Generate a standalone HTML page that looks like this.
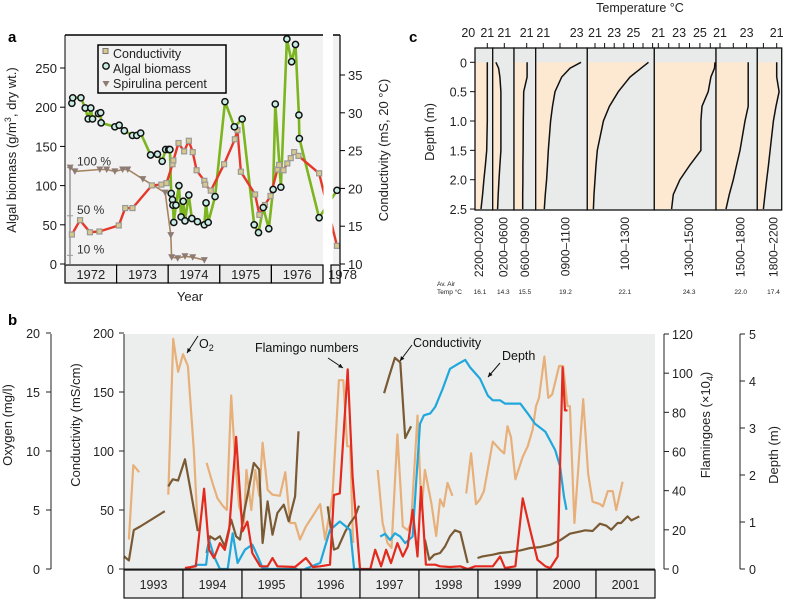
<!DOCTYPE html>
<html><head><meta charset="utf-8">
<style>
html,body{margin:0;padding:0;background:#fff;}
svg{display:block;font-family:"Liberation Sans",sans-serif;}
</style></head>
<body>
<svg id="fig" width="785" height="599" viewBox="0 0 785 599" xmlns="http://www.w3.org/2000/svg"></svg>
<script>
// ===== Panel a data (months since Jan 1972) =====
const bioMonths=[1.6,1.8,3.7,4.7,5.4,6.0,6.4,7.8,8.3,8.4,11.6,12.6,13.8,15.7,16.7,17.6,19.9,21.5,22.6,23.4,24.1,24.4,24.7,25.0,25.1,25.3,25.8,26.5,27.0,27.5,27.9,28.8,29.5,30.8,32.4,32.8,33.3,34.9,37.2,39.4,41.2,44.0,45.0,46.1,47.4,48.4,48.9,50.2,51.6,52.7,53.6,54.4,54.5,59.1,72];
const bioValues=[205,212,212,199,185,199,185,192,193,180,175,177,170,164,164,167,139,140,131,146,146,146,90,82,75,53,75,100,60,80,55,88,58,54,50,78,53,86,207,175,185,50,40,72,45,95,204,98,287,258,280,190,160,59,94];
const condAMonths=[1.6,3.5,5.8,8.0,12.5,14.0,15.7,20.2,22.4,23.6,25.0,25.2,26.4,27.7,28.8,29.7,30.6,32.4,32.6,33.9,37.0,39.5,40.1,40.9,44.2,45.2,46.5,47.8,49.4,49.8,50.8,51.7,52.5,53.3,54.3,59.1,72];
const condAValues=[13.9,15.8,14.2,14.3,15.1,17.4,17.4,20.4,20.5,20.7,23.2,23.7,26.0,24.9,26.3,24.8,22.4,21.0,20.5,19.7,23.2,26.5,27.7,22.2,19.2,16.5,17.8,19.0,22.5,23.1,22.4,23.3,24.0,24.8,24.3,22.0,12.4];
const spiMonths=[1.2,2.3,8.1,9.7,11.6,13.4,14.6,18.1,23.3,24.6,24.8,26.2,27.9,29.7,32.4];
const spiPercent=[100,96,98,98,96,98,98,88,74,30,7,6,8,7,4];
const aYears=["1972","1973","1974","1975","1976"];
const aLeftTicks=[0,50,100,150,200,250];
const aRightTicks=[10,15,20,25,30,35];

// ===== Panel b data (months since Jan 1993); null = gap =====
const o2Months=[1.0,1.9,3.1,null,9.0,10.0,11.0,12.0,13.0,14.2,15.0,null,16.8,18.0,19.0,20.2,20.9,21.8,22.6,23.4,24.4,24.9,25.9,26.7,27.5,28.2,29.2,30.2,31.7,32.8,33.8,34.8,35.8,37.0,38.4,39.9,40.9,42.4,43.7,44.6,45.4,46.0,46.6,null,51.6,52.6,53.6,54.4,55.6,56.7,57.7,58.4,59.7,60.5,61.2,62.5,63.5,64.3,65.0,65.8,66.8,null,69.6,70.6,71.6,72.4,73.2,75.0,76.5,77.3,78.0,78.7,79.6,81.1,82.1,83.1,83.8,84.4,85.5,86.3,87.1,88.5,89.3,90.2,90.7,91.6,93.4,94.4,95.3,96.8,97.4,98.4,99.4,100.1,101.4];
const o2Values=[2.5,8.8,8.2,null,6.3,19.5,16.7,18.2,17.2,10.1,3.3,null,9.0,7.3,6.0,5.3,5.0,14.7,9.3,5.3,3.9,8.4,5.0,8.4,6.2,10.7,6.7,6.3,6.2,8.2,3.9,3.9,2.5,3.6,4.5,5.5,2.5,6.2,16.0,16.0,10.4,10.4,2.2,null,8.4,3.9,2.2,1.8,11.4,3.6,3.3,3.9,13.0,5.0,8.4,5.6,2.8,5.9,5.3,7.3,6.2,null,6.4,9.8,5.5,5.9,6.6,10.8,10.1,9.8,12.1,11.2,7.6,9.5,10.4,11.8,13.8,14.5,18.0,14.5,14.8,17.2,17.2,13.8,13.8,3.9,14.4,8.1,5.7,5.5,5.3,6.6,6.6,5.0,7.4];
const condBMonths=[0,1.0,2.0,3.3,8.3,null,9.0,9.9,11.0,12.4,13.4,15.0,null,16.8,17.5,18.5,19.5,20.5,21.8,22.8,23.6,24.4,25.6,26.4,27.5,28.2,29.2,30.2,31.2,32.5,33.5,34.8,35.5,null,41.4,42.7,43.5,45.0,46.0,47.0,47.8,null,52.9,53.9,55.1,56.2,57.2,58.4,null,61.2,62.1,63.1,64.3,65.3,66.3,67.3,68.4,69.9,null,71.9,72.9,75.0,76.5,78.5,80.6,82.6,84.6,86.7,88.7,90.7,92.8,93.8,95.3,96.8,98.1,99.1,100.4,101.1,102.4,103.2,104.8];
const condBValues=[10.7,7.3,33,36,49,null,70,76,75,93,70,32,null,13.6,27.7,24.9,27.7,19.2,41.8,27.7,24.9,47.5,72.9,89.8,84.2,22,57.3,29.1,47.5,54.5,40.4,61.6,116.7,null,53.1,16.4,17.8,31.9,39,44.6,53.7,null,149,163,179,175,111,121,null,24.9,7.9,12.1,13.6,19.2,27.7,32.8,31.1,5.1,null,9.3,10.7,12.1,13.6,14.4,15.8,17.8,18.6,20.6,24.3,29.9,31.9,32.8,32.2,38.4,36.7,33.3,39,39,44.6,41.2,44.6];
const depthMonths=[12.4,15.0,16.7,17.3,18.3,19.5,21.1,22.1,23.1,24.6,26.1,27.2,28.2,29.7,31.7,35.3,null,36.8,39.9,41.9,43.9,46.0,46.8,48.0,null,52.1,53.1,54.1,55.1,56.2,57.2,58.7,60.2,61.0,62.3,63.3,64.8,66.3,67.9,69.4,70.4,72.4,74.0,75.0,76.5,77.5,80.6,82.1,83.6,85.7,87.7,88.7,89.5,90.0];
const depthValues=[0,0.09,0.09,0.62,0.27,0,0,0.76,0.13,0.41,0.52,0.27,0.02,0,0,0,null,0,0.13,0.83,1.01,0.83,0,0,null,0.69,0.75,0.62,0.76,0.69,0.55,0.69,3.09,3.27,3.31,3.45,3.83,4.26,4.36,4.45,4.29,4.05,3.69,3.59,3.59,3.52,3.52,3.31,3.09,2.92,2.53,2.18,1.54,1.26];
const flamMonths=[12.4,14.6,16.3,17.3,18.3,19.5,20.5,21.4,22.8,24.1,25.1,26.1,27.7,29.2,30.2,31.2,34.8,37.0,38.4,39.9,41.9,42.7,43.9,45.5,46.5,48.0,50.1,51.1,52.3,53.3,54.3,55.6,56.7,57.7,58.7,59.7,60.4,61.4,63.3,64.3,66.3,68.4,69.9,71.4,75.0,76.5,77.5,79.6,81.1,82.6,84.1,85.7,86.7,88.2,89.2,89.7,90.2];
const flamValues=[0.5,1.4,41,9.8,5.6,13.2,9.8,20,67.5,19.2,24.2,8.1,1.4,1.4,5.6,1.4,1,5.6,1,1.4,2.2,37.8,38.6,102,47,0,0,9.8,1.4,9.8,3,13.2,6.4,11.5,30.2,6.4,42,2.2,2.2,1.4,1,1.4,0,1.4,1.4,6.4,0.5,1.4,36.1,20,4.7,1.4,0.5,6.4,103,81,81];
const bYears=["1993","1994","1995","1996","1997","1998","1999","2000","2001"];
const o2Ticks=[0,5,10,15,20];
const condBTicks=[0,50,100,150,200];
const flamTicks=[0,20,40,60,80,100,120];
const depthTicks=[0,1,2,3,4,5];

// ===== Panel c data =====
const cLabels=["2200–0200","0200–0600","0600–0900","0900–1100","100–1300","1300–1500","1500–1800","1800–2200"];
const cAirTemps=["16.1","14.3","15.5","19.2","22.1","24.3","22.0","17.4"];
const cDepthTicks=[0,0.5,1.0,1.5,2.0,2.5];
const cDepths=[0,0.1,0.25,0.5,0.75,1.0,1.5,1.75,2.0,2.25,2.5];
const cTemp1=[21,21,21,21,21,21,20.97,20.9,20.82,20.75,20.67];
const cTemp2=[20.56,20.7,20.77,20.82,20.82,20.82,20.82,20.77,20.72,20.68,20.65];
const cTemp3=[21.02,21.02,21.02,20.84,20.83,20.82,20.81,20.8,20.8,20.79,20.79];
const cTemp4=[23.26,22.6,22.1,21.7,21.55,21.44,21.3,21.25,21.2,21.12,21.06];
const cTemp5=[26.57,25.8,24.65,23.43,22.5,21.87,21.24,21.1,21.0,20.9,20.83];
const cTemp6=[26.5,26.4,26.06,25.8,25.2,25.1,25.1,24.04,23.08,22.44,22.28];
const cTemp7=[23.12,23.12,23.12,23.12,23.12,22.88,22.5,22.25,22.0,21.7,21.45];
const cTemp8=[21,21,21,21.18,20.95,20.75,20.5,20.38,20.25,20.12,20.0];
const cTemps=[cTemp1,cTemp2,cTemp3,cTemp4,cTemp5,cTemp6,cTemp7,cTemp8];
const cTopTickLabels=[["20","21"],["21"],["21"],["21","23"],["21","23","25"],["21","23","25"],["21","23"],["21"]];
const cTopTickValues=[[20,21],[21],[21],[21,23],[21,23,25],[21,23,25],[21,23],[21]];

// ===== helpers =====
const NS="http://www.w3.org/2000/svg";
const svg=document.getElementById('fig');
function mk(tag,attrs,parent,text){const e=document.createElementNS(NS,tag);for(const k in attrs)e.setAttribute(k,attrs[k]);if(text!==undefined)e.textContent=text;(parent||svg).appendChild(e);return e;}
function group(name){const g=mk('g',{});return g;}
function pathFrom(xs,ys,fx,fy){let d='',pen=false;for(let i=0;i<xs.length;i++){if(xs[i]===null||ys[i]===null){pen=false;continue;}d+=(pen?'L':'M')+fx(xs[i]).toFixed(1)+','+fy(ys[i]).toFixed(1);pen=true;}return d;}

// ================= PANEL A =================
const xA=m=>m<65?65+m*4.3:337+(m-72)*4.3;
const yAL=v=>264-v*0.784;
const yAR=v=>264-(v-10)*7.56;
const yPct=p=>yAL(p*1.23);
const ga=group('panel-a');
let e;
e=mk('rect',{x:65,y:35,width:258,height:229,fill:'#f2f2f2'},ga);
mk('rect',{x:333,y:35,width:7,height:229,fill:'#f2f2f2'},ga);
mk('line',{x1:70,y1:yPct(100),x2:70,y2:264,stroke:'#999','stroke-width':1.5},ga);
[[100,'100 %'],[50,'50 %'],[9,'10 %']].forEach(p=>{mk('line',{x1:67,y1:yPct(p[0]),x2:73,y2:yPct(p[0]),stroke:'#999'},ga);
 e=mk('text',{x:77,y:yPct(p[0])-2,'font-size':12,fill:'#333'},ga,p[1]);});
e=mk('path',{d:pathFrom(spiMonths,spiPercent,xA,yPct),fill:'none',stroke:'#a58560','stroke-width':1.6},ga);
e=mk('path',{d:pathFrom(bioMonths,bioValues,xA,yAL),fill:'none',stroke:'#7cb51f','stroke-width':2.6,'stroke-linejoin':'round'},ga);
e=mk('path',{d:pathFrom(condAMonths,condAValues,xA,yAR),fill:'none',stroke:'#e5382a','stroke-width':2.4,'stroke-linejoin':'round'},ga);
mk('rect',{x:323.5,y:33,width:9,height:233,fill:'#fff'},ga);
spiMonths.forEach((m,i)=>{const x=xA(m),y=yPct(spiPercent[i]);e=mk('path',{d:`M${x-3.5},${y-3}L${x+3.5},${y-3}L${x},${y+3.5}Z`,fill:'#8d7b74'},ga);});
condAMonths.forEach((m,i)=>{const x=xA(m),y=yAR(condAValues[i]);e=mk('rect',{x:x-2.5,y:y-2.5,width:5,height:5,fill:'#d8c98a',stroke:'#999','stroke-width':1.2},ga);});
bioMonths.forEach((m,i)=>{e=mk('circle',{cx:xA(m),cy:yAL(bioValues[i]),r:3.1,fill:'#c9ece4',stroke:'#111','stroke-width':1.5},ga);});
mk('line',{x1:65,y1:35,x2:323,y2:35,stroke:'#000','stroke-width':1.5},ga);
mk('line',{x1:333,y1:35,x2:340,y2:35,stroke:'#000','stroke-width':1.5},ga);
mk('line',{x1:65,y1:35,x2:65,y2:264,stroke:'#000','stroke-width':1},ga);
mk('line',{x1:340,y1:35,x2:340,y2:264,stroke:'#000','stroke-width':1.2},ga);
aLeftTicks.forEach(v=>{mk('line',{x1:60,y1:yAL(v),x2:65,y2:yAL(v),stroke:'#000'},ga);e=mk('text',{x:57,y:yAL(v)+5,'font-size':13,'text-anchor':'end',fill:'#222'},ga,String(v));});
aRightTicks.forEach(v=>{mk('line',{x1:340,y1:yAR(v),x2:345,y2:yAR(v),stroke:'#000'},ga);e=mk('text',{x:348,y:yAR(v)+5,'font-size':13,fill:'#222'},ga,String(v));});
aYears.forEach((y,i)=>{const x0=65+i*51.6;mk('rect',{x:x0,y:265,width:51.6,height:18,fill:'#ececec',stroke:'#000','stroke-width':1.2},ga);e=mk('text',{x:x0+25.8,y:279,'font-size':13,'text-anchor':'middle',fill:'#222'},ga,y);});
mk('rect',{x:331,y:265,width:9,height:18,fill:'#ececec',stroke:'#000','stroke-width':1.2},ga);
e=mk('text',{x:328,y:279,'font-size':13,fill:'#222'},ga,'1978');
e=mk('text',{x:190,y:301,'font-size':13,'text-anchor':'middle',fill:'#222'},ga,'Year');
e=mk('text',{x:0,y:0,'font-size':13,'text-anchor':'middle',fill:'#222',transform:'translate(16,150) rotate(-90)'},ga);
e.innerHTML='Algal biomass (g/m<tspan dy="-5" font-size="9">3</tspan><tspan dy="5">, dry wt.)</tspan>';
e=mk('text',{x:0,y:0,'font-size':13,'text-anchor':'middle',fill:'#222',transform:'translate(388,150) rotate(-90)'},ga,'Conductivity (mS, 20 °C)');
e=mk('text',{x:8,y:42,'font-size':15,'font-weight':'bold'},ga,'a');
const lg=group('legend-a');ga.appendChild(lg);
mk('rect',{x:98,y:45,width:128,height:48,fill:'#f2f2f2',stroke:'#000','stroke-width':1.5},lg);
mk('rect',{x:103,y:48.5,width:5,height:5,fill:'#d8c98a',stroke:'#777'},lg);
mk('circle',{cx:106,cy:66,r:3.2,fill:'#c9ece4',stroke:'#111','stroke-width':1.4},lg);
mk('path',{d:'M102.5,81L109.5,81L106,87Z',fill:'#8d7b74'},lg);
[['Conductivity',58],['Algal biomass',73],['Spirulina percent',88]].forEach(t=>{e=mk('text',{x:113,y:t[1],'font-size':12.5,fill:'#222'},lg,t[0]);});

// ================= PANEL C =================
const gc=group('panel-c');
const cBounds=[475,492.7,514,535.7,587.3,654.3,716,757.3,781.7];
const cRefX=[487.3,504.3,526.7,543.3,595,658.3,720,776.7];
const cK=[19,19,19,16.7,9.6,10.4,13.3,13.3];
const cTop=48,cBot=210;
const yDc=d=>62.3+d*58.7;
for(let p=0;p<8;p++){
 const L=cBounds[p],R=cBounds[p+1];
 const xT=t=>cRefX[p]+(t-21)*cK[p];
 e=mk('rect',{x:L,y:cTop,width:R-L,height:cBot-cTop,fill:'#e9ebea'},gc);
 let d=`M${L},${yDc(0)}`;cTemps[p].forEach((t,i)=>{d+=`L${Math.min(R,xT(t)).toFixed(1)},${yDc(cDepths[i]).toFixed(1)}`;});d+=`L${L},${yDc(2.5)}Z`;
 mk('path',{d:d,fill:'#fde8d2'},gc);
 e=mk('path',{d:pathFrom(cTemps[p],cDepths,t=>Math.min(R-1,xT(t)),yDc),fill:'none',stroke:'#111','stroke-width':1.5},gc);
 mk('rect',{x:L,y:cTop,width:R-L,height:cBot-cTop,fill:'none',stroke:'#111','stroke-width':1.3},gc);
 for(let t=Math.ceil((L-cRefX[p])/cK[p]+21);xT(t)<R;t++){if(xT(t)>L+1)mk('line',{x1:xT(t),y1:43,x2:xT(t),y2:48,stroke:'#111'},gc);}
 cTopTickValues[p].forEach((v,i)=>{e=mk('text',{x:xT(v),y:37,'font-size':12.5,'text-anchor':'middle',fill:'#222'},gc,cTopTickLabels[p][i]);});
 const cx=(L+R)/2+(p<3?0:4);
 e=mk('text',{x:0,y:0,'font-size':12,'text-anchor':'end',fill:'#222',transform:`translate(${p==0?483:cx+4},217) rotate(-90)`},gc,cLabels[p]);
 e=mk('text',{x:p==0?480:cx,y:294,'font-size':6.5,'text-anchor':'middle',fill:'#222'},gc,cAirTemps[p]);
}
cDepthTicks.forEach(v=>{mk('line',{x1:470,y1:yDc(v),x2:475,y2:yDc(v),stroke:'#111'},gc);e=mk('text',{x:467,y:yDc(v)+5,'font-size':12.5,'text-anchor':'end',fill:'#222'},gc,v===0?'0':v.toFixed(1));});
e=mk('text',{x:0,y:0,'font-size':13,'text-anchor':'middle',fill:'#222',transform:'translate(434,132) rotate(-90)'},gc,'Depth (m)');
e=mk('text',{x:640,y:12,'font-size':12.5,'text-anchor':'middle',fill:'#222'},gc,'Temperature °C');
e=mk('text',{x:409,y:42,'font-size':15,'font-weight':'bold'},gc,'c');
e=mk('text',{x:437,y:286,'font-size':6.5,fill:'#222'},gc,'Av. Air');
mk('text',{x:437,y:294,'font-size':6.5,fill:'#222'},gc,'Temp °C');

// ================= PANEL B =================
const gb=group('panel-b');
const xB=m=>124+m*(59/12);
const yO=v=>569-v*11.8;
const yC=v=>569-v*1.18;
const yF=v=>569-v*(235/120);
const yDb=v=>569-v*47;
e=mk('rect',{x:124,y:334,width:531,height:235,fill:'#eceeed'},gb);
[[o2Months,o2Values,yO,'#e7b07a','oxygen-line'],[condBMonths,condBValues,yC,'#7a5a34','conductivity-b-line'],[depthMonths,depthValues,yDb,'#20a7dc','depth-line'],[flamMonths,flamValues,yF,'#e32a1e','flamingo-line']].forEach(s=>{
 e=mk('path',{d:pathFrom(s[0],s[1],xB,s[2]),fill:'none',stroke:s[3],'stroke-width':2.2,'stroke-linejoin':'round'},gb);});
mk('line',{x1:51,y1:334,x2:51,y2:569,stroke:'#222'},gb);
o2Ticks.forEach(v=>{mk('line',{x1:46,y1:yO(v),x2:51,y2:yO(v),stroke:'#222'},gb);e=mk('text',{x:40,y:yO(v)+5,'font-size':12.5,'text-anchor':'end',fill:'#222'},gb,String(v));});
mk('line',{x1:124,y1:334,x2:124,y2:569,stroke:'#222'},gb);
condBTicks.forEach(v=>{mk('line',{x1:119,y1:yC(v),x2:124,y2:yC(v),stroke:'#222'},gb);e=mk('text',{x:114,y:yC(v)+5,'font-size':12.5,'text-anchor':'end',fill:'#222'},gb,String(v));});
mk('line',{x1:664,y1:334,x2:664,y2:569,stroke:'#222'},gb);
flamTicks.forEach(v=>{mk('line',{x1:664,y1:yF(v),x2:669,y2:yF(v),stroke:'#222'},gb);e=mk('text',{x:672,y:yF(v)+5,'font-size':12.5,fill:'#222'},gb,String(v));});
mk('line',{x1:740,y1:334,x2:740,y2:569,stroke:'#222'},gb);
depthTicks.forEach(v=>{mk('line',{x1:740,y1:yDb(v),x2:745,y2:yDb(v),stroke:'#222'},gb);e=mk('text',{x:749,y:yDb(v)+5,'font-size':12.5,fill:'#222'},gb,String(v));});
mk('line',{x1:124,y1:569,x2:655,y2:569,stroke:'#222'},gb);
bYears.forEach((y,i)=>{const x0=124+i*59;mk('rect',{x:x0,y:570,width:59,height:28,fill:'#ececec',stroke:'#111','stroke-width':1.2},gb);e=mk('text',{x:x0+29.5,y:589,'font-size':12.5,'text-anchor':'middle',fill:'#222'},gb,y);});
[['Oxygen (mg/l)',12,425],['Conductivity (mS/cm)',80,425],['Depth (m)',778,455]].forEach(t=>{e=mk('text',{x:0,y:0,'font-size':13,'text-anchor':'middle',fill:'#222',transform:`translate(${t[1]},${t[2]}) rotate(-90)`},gb,t[0]);});
e=mk('text',{x:0,y:0,'font-size':13,'text-anchor':'middle',fill:'#222',transform:'translate(710,425) rotate(-90)'},gb);
e.innerHTML='Flamingoes (×10<tspan dy="3" font-size="9">4</tspan><tspan dy="-3">)</tspan>';
e=mk('text',{x:8,y:325,'font-size':15,'font-weight':'bold'},gb,'b');
function ann(txt,tx,ty,x1,y1,x2,y2,name){e=mk('text',{x:tx,y:ty,'font-size':12.5,fill:'#111'},gb,txt);
 mk('line',{x1:x1,y1:y1,x2:x2,y2:y2,stroke:'#111','stroke-width':1},gb);
 const a=Math.atan2(y2-y1,x2-x1),h=5;mk('path',{d:`M${x2},${y2}L${x2-h*Math.cos(a-0.45)},${y2-h*Math.sin(a-0.45)}L${x2-h*Math.cos(a+0.45)},${y2-h*Math.sin(a+0.45)}Z`,fill:'#111'},gb);return e;}
ann('',0,0,198,336,187,353,'o2-annotation');
e=mk('text',{x:199,y:348,'font-size':12.5,fill:'#111'},gb);e.innerHTML='O<tspan dy="3" font-size="9">2</tspan>';
ann('Flamingo numbers',255,352,328,358,343,368,'flamingo-annotation');
ann('Conductivity',413,347,412,345,400,361,'conductivity-annotation');
ann('Depth',502,360,500,363,488,377,'depth-annotation');
</script>
</body></html>
